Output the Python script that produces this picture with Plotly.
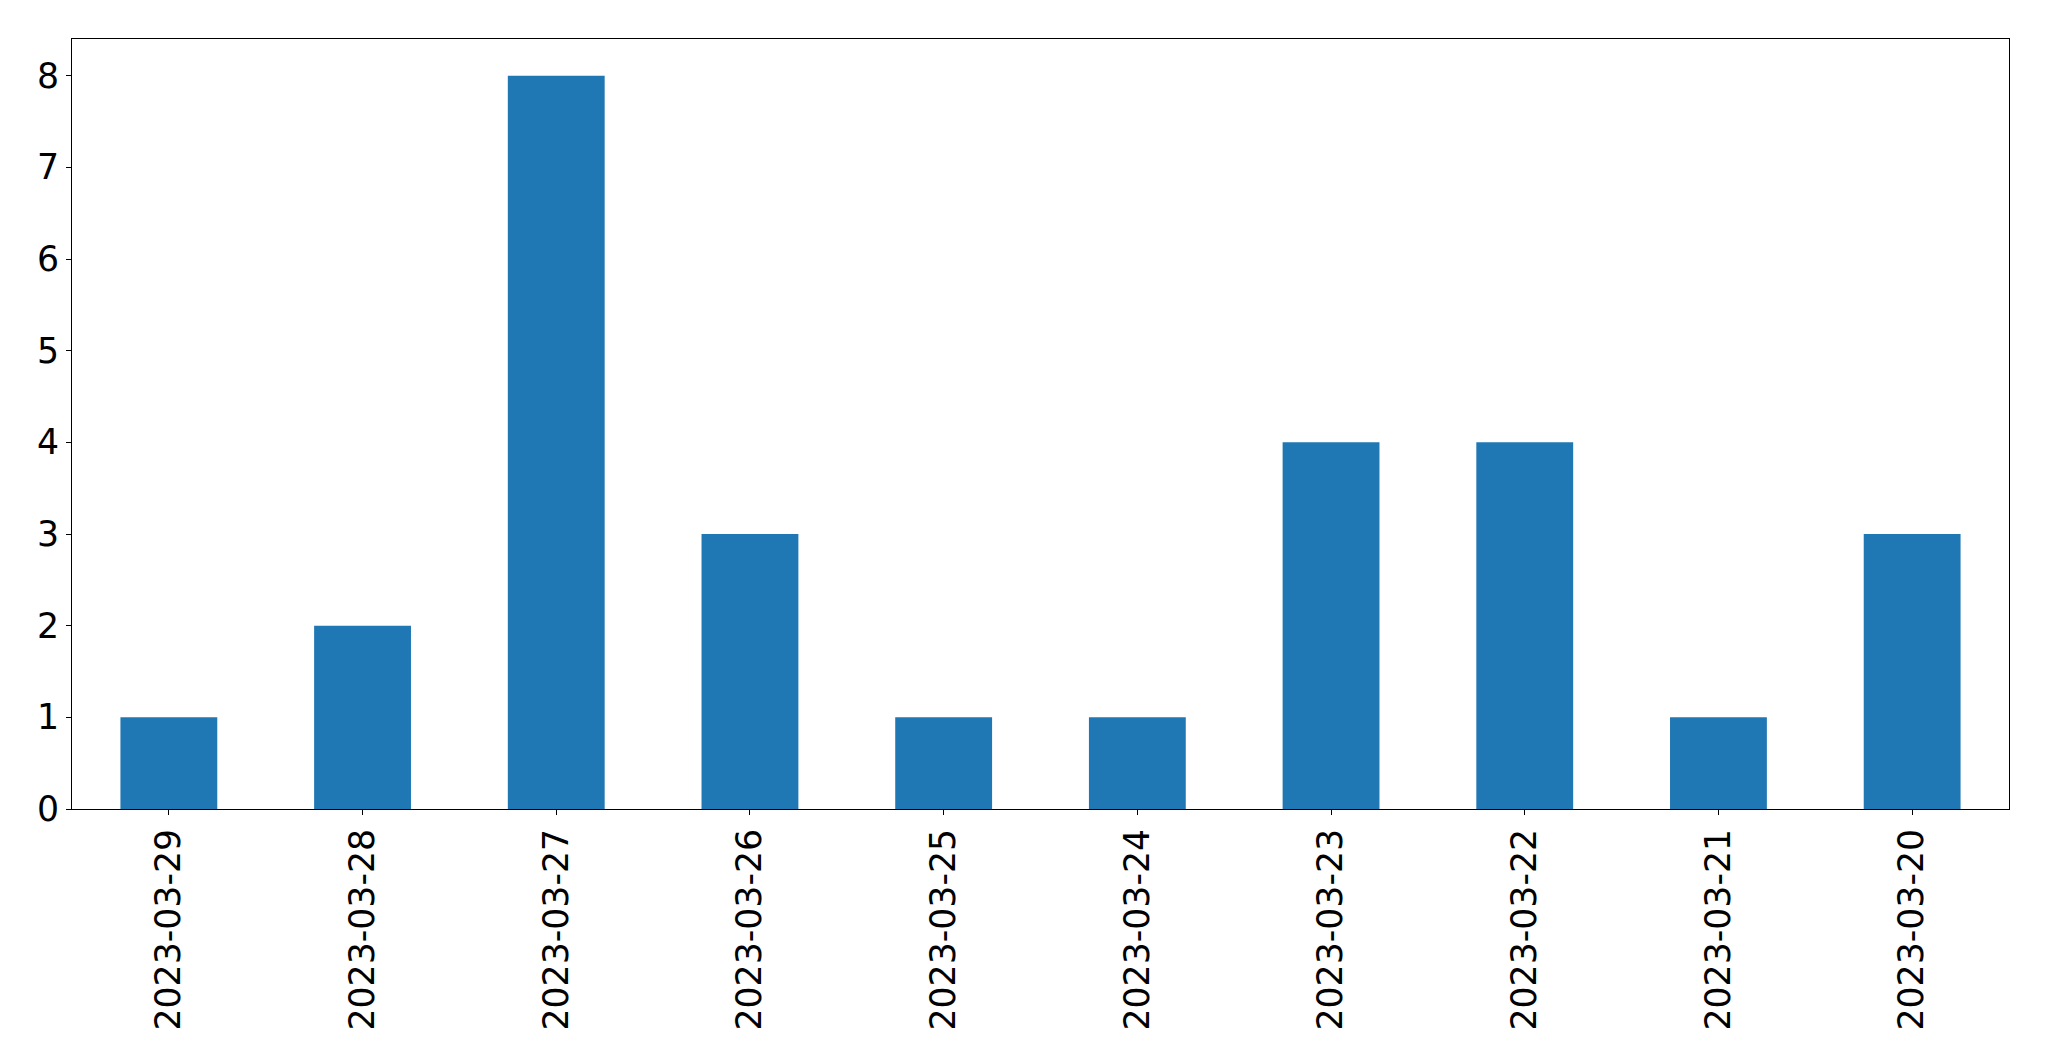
import plotly.graph_objects as go

dates = ["2023-03-29", "2023-03-28", "2023-03-27", "2023-03-26", "2023-03-25",
         "2023-03-24", "2023-03-23", "2023-03-22", "2023-03-21", "2023-03-20"]
counts = [1, 2, 8, 3, 1, 1, 4, 4, 1, 3]
y_ticks = [0, 1, 2, 3, 4, 5, 6, 7, 8]

fig = go.Figure(go.Bar(x=dates, y=counts, width=0.5, marker=dict(color="#1f77b4", line=dict(width=0))))

font = dict(family="DejaVu Sans", size=34.7, color="black")
axis_common = dict(showline=True, linecolor="black", linewidth=1.1, mirror=True,
                   ticks="outside", ticklen=5, tickwidth=1.1, tickcolor="black",
                   showgrid=False, zeroline=False, tickfont=font)

fig.update_layout(
    width=2049, height=1061,
    margin=dict(l=64, r=48, t=31, b=260, autoexpand=False),
    plot_bgcolor="white", paper_bgcolor="white",
    showlegend=False,
    xaxis=dict(type="category", range=[-0.5, 9.5], tickangle=-90, **axis_common),
    yaxis=dict(range=[0, 8.4], tickvals=y_ticks, **axis_common),
)

fig.write_html("out.html")
